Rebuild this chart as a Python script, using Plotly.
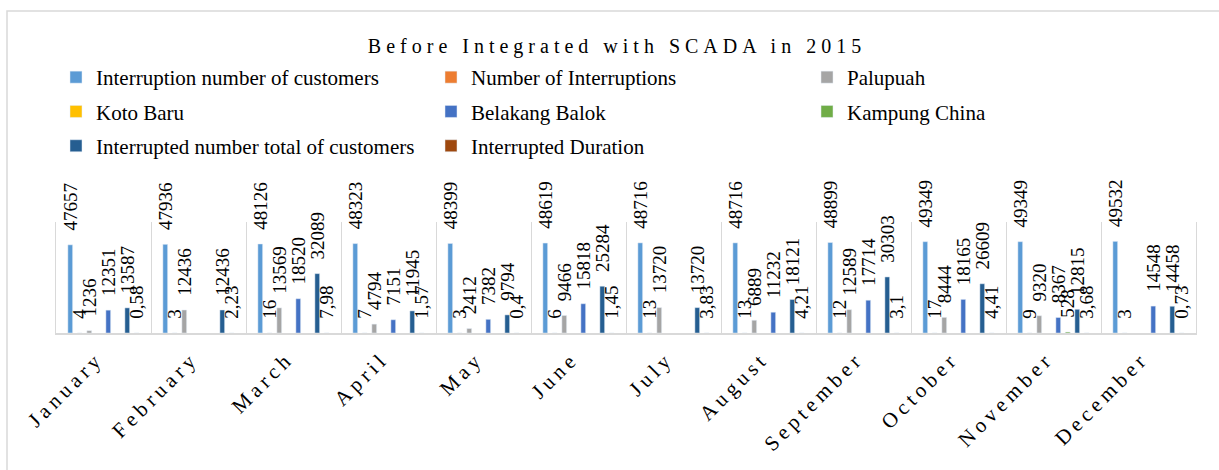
import plotly.graph_objects as go

months = ["January", "February", "March", "April", "May", "June", "July",
          "August", "September", "October", "November", "December"]

customers = [47657, 47936, 48126, 48323, 48399, 48619, 48716, 48716, 48899, 49349, 49349, 49532]
interruptions = [4, 3, 16, 7, 3, 6, 13, 13, 12, 17, 9, 3]
palupuah = [1236, 12436, 13569, 4794, 2412, 9466, 13720, 6889, 12589, 8444, 9320, None]
koto_baru = [None, None, None, None, None, None, None, None, None, None, None, None]
belakang_balok = [12351, None, 18520, 7151, 7382, 15818, None, 11232, 17714, 18165, 8367, 14548]
kampung_china = [None, None, None, None, None, None, None, None, None, None, 528, None]
total_customers = [13587, 12436, 32089, 11945, 9794, 25284, 13720, 18121, 30303, 26609, 12815, 14458]
duration = [0.58, 2.23, 7.98, 1.57, 0.4, 1.45, 3.83, 4.21, 3.1, 4.41, 3.68, 0.73]

series = [
    ("Interruption number of customers", customers, "#5B9BD5", "legend"),
    ("Number of Interruptions", interruptions, "#ED7D31", "legend2"),
    ("Palupuah", palupuah, "#A5A5A5", "legend3"),
    ("Koto Baru", koto_baru, "#FFC000", "legend"),
    ("Belakang Balok", belakang_balok, "#4472C4", "legend2"),
    ("Kampung China", kampung_china, "#70AD47", "legend3"),
    ("Interrupted number total of customers", total_customers, "#255E91", "legend"),
    ("Interrupted Duration", duration, "#9E480E", "legend2"),
]

PAD = "\u00a0\u00a0\u00a0"  # small gap between bar end and its rotated label


def fmt(v):
    if v is None:
        return ""
    if isinstance(v, float):
        return PAD + str(v).replace(".", ",")
    return PAD + str(v)


SERIF = "Liberation Serif, Times New Roman, serif"

fig = go.Figure()
for name, vals, color, leg in series:
    fig.add_trace(go.Bar(
        name=name, x=months, y=vals, marker_color=color,
        text=[fmt(v) for v in vals], textposition="outside", textangle=-90,
        constraintext="none", cliponaxis=False,
        textfont=dict(family=SERIF, size=19, color="#000000"),
        legend=leg, legendgroup=name,
    ))

W, H = 1219, 470
legend_common = dict(
    orientation="v", xref="container", yref="container", xanchor="left", yanchor="top",
    font=dict(family=SERIF, size=21, color="#000000"), bgcolor="rgba(0,0,0,0)",
    tracegroupgap=4, borderwidth=0,
)
LEG_TOP = 57

fig.update_layout(
    width=W, height=H,
    paper_bgcolor="white", plot_bgcolor="white",
    margin=dict(l=56, r=23, t=222, b=137, autoexpand=False),
    barmode="group", bargap=0.2, bargroupgap=0.5,
    title=dict(
        text='<span style="letter-spacing:5px">Before Integrated with SCADA in 2015</span>',
        x=617 / W, xref="container", xanchor="center",
        y=1 - 46 / H, yref="container", yanchor="middle",
        font=dict(family=SERIF, size=20, color="#000000"),
    ),
    legend=dict(x=56 / W, y=1 - LEG_TOP / H, **legend_common),
    legend2=dict(x=431 / W, y=1 - LEG_TOP / H, **legend_common),
    legend3=dict(x=807 / W, y=1 - LEG_TOP / H, **legend_common),
    xaxis=dict(
        type="category", tickson="boundaries", showgrid=True, gridcolor="#d9d9d9", gridwidth=1,
        showline=True, linecolor="#d9d9d9", linewidth=2, ticks="", tickangle=-45,
        tickvals=months,
        ticktext=['<span style="letter-spacing:4.5px">%s</span>' % m for m in months],
        tickfont=dict(family=SERIF, size=21, color="#000000"),
        ticklabelstandoff=3, ticklabelshift=-6, automargin=False,
    ),
    yaxis=dict(
        range=[0, 60000], showticklabels=False, showgrid=False, zeroline=False,
        showline=True, linecolor="#d9d9d9", linewidth=1, mirror=True, ticks="",
        automargin=False,
    ),
    shapes=[dict(
        type="rect", xref="paper", yref="paper",
        x0=(7 - 56) / 1140, x1=(1240 - 56) / 1140,
        y0=(333 - 490) / 111, y1=(333 - 11) / 111,
        line=dict(color="#d9d9d9", width=1.5), fillcolor="rgba(0,0,0,0)", layer="below",
    )],
    showlegend=True,
)

fig.write_html("out.html", config={"displayModeBar": False},
               post_script="document.body.style.margin='0';")
